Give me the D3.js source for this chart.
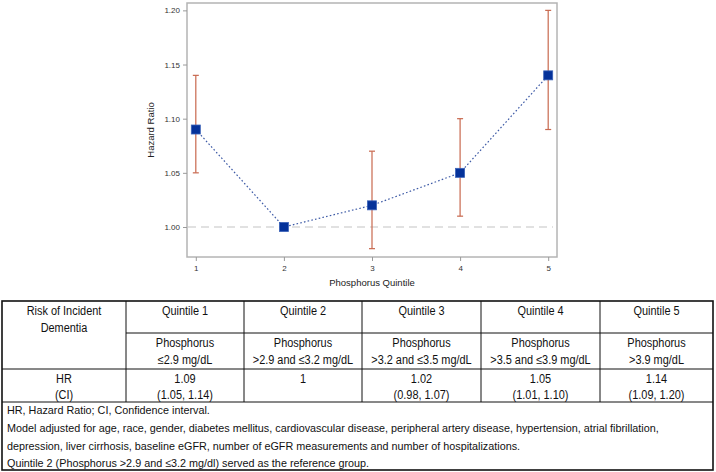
<!DOCTYPE html>
<html>
<head>
<meta charset="utf-8">
<script src="https://cdn.jsdelivr.net/npm/d3@7"></script>
<style>
  html, body { margin: 0; padding: 0; background: #fff; }
  svg { display: block; }
</style>
</head>
<body>
<svg id="chart" width="716" height="472"></svg>
<script>
// ---- Data ----
const quintiles = [1, 2, 3, 4, 5];
const hazardRatio = [1.09, 1.00, 1.02, 1.05, 1.14];
const ciLower = [1.05, null, 0.98, 1.01, 1.09];
const ciUpper = [1.14, null, 1.07, 1.10, 1.20];
const yTicks = [1.00, 1.05, 1.10, 1.15, 1.20];
const referenceValue = 1.00;

const tableCorner = ["Risk of Incident", "Dementia"];
const quintileHeaders = ["Quintile 1", "Quintile 2", "Quintile 3", "Quintile 4", "Quintile 5"];
const rangeLine1 = ["Phosphorus", "Phosphorus", "Phosphorus", "Phosphorus", "Phosphorus"];
const rangeLine2 = ["≤2.9 mg/dL", ">2.9 and ≤3.2 mg/dL", ">3.2 and ≤3.5 mg/dL", ">3.5 and ≤3.9 mg/dL", ">3.9 mg/dL"];
const hrLabel = ["HR", "(CI)"];
const hrText = ["1.09", "1", "1.02", "1.05", "1.14"];
const ciText = ["(1.05, 1.14)", "", "(0.98, 1.07)", "(1.01, 1.10)", "(1.09, 1.20)"];
const notes = [
  "HR, Hazard Ratio; CI, Confidence interval.",
  "Model adjusted for age, race, gender, diabetes mellitus, cardiovascular disease, peripheral artery disease, hypertension, atrial fibrillation,",
  "depression, liver cirrhosis, baseline eGFR, number of eGFR measurements and number of hospitalizations.",
  "Quintile 2 (Phosphorus >2.9 and ≤3.2 mg/dl) served as the reference group."
];

// ---- Chart ----
const svg = d3.select("#chart");
const frame = { left: 187, right: 557, top: 3, bottom: 257 };

const x = d3.scaleLinear().domain([0.9, 5.1]).range([frame.left, frame.right]);
const y = d3.scaleLinear().domain([0.9723, 1.2068]).range([frame.bottom, frame.top]);

const chartFont = "'Liberation Sans', Arial, sans-serif";

// frame
svg.append("rect")
  .attr("x", frame.left).attr("y", frame.top)
  .attr("width", frame.right - frame.left).attr("height", frame.bottom - frame.top)
  .attr("fill", "none").attr("stroke", "#b4b4b4").attr("stroke-width", 1.5);

// axes
const yAxis = d3.axisLeft(y).tickValues(yTicks).tickFormat(d3.format(".2f")).tickSize(4).tickPadding(3);
const gy = svg.append("g").attr("transform", `translate(${frame.left},0)`).call(yAxis);
const xAxis = d3.axisBottom(x).tickValues(quintiles).tickFormat(d3.format("d")).tickSize(4).tickPadding(4);
const gx = svg.append("g").attr("transform", `translate(0,${frame.bottom})`).call(xAxis);
[gx, gy].forEach(g => {
  g.select(".domain").remove();
  g.selectAll(".tick line").attr("stroke", "#9a9a9a");
  g.selectAll(".tick text").attr("fill", "#333").style("font-family", chartFont).style("font-size", "8px");
});

// axis titles
svg.append("text")
  .attr("x", (frame.left + frame.right) / 2).attr("y", 286)
  .attr("text-anchor", "middle")
  .style("font-family", chartFont).style("font-size", "9.5px").attr("fill", "#222")
  .text("Phosphorus Quintile");
svg.append("text")
  .attr("transform", `translate(154,${(frame.top + frame.bottom) / 2}) rotate(-90)`)
  .attr("text-anchor", "middle")
  .style("font-family", chartFont).style("font-size", "9.5px").attr("fill", "#222")
  .text("Hazard Ratio");

// reference line
svg.append("line")
  .attr("x1", frame.left + 1).attr("x2", frame.right - 4)
  .attr("y1", y(referenceValue)).attr("y2", y(referenceValue))
  .attr("stroke", "#c4c4c4").attr("stroke-width", 1.2).attr("stroke-dasharray", "8,5");

const pts = quintiles.map((q, i) => ({ q, hr: hazardRatio[i], lo: ciLower[i], hi: ciUpper[i] }));

// error bars
const eb = svg.append("g").attr("stroke", "#c8684e").attr("stroke-width", 1.2).attr("fill", "none");
pts.filter(d => d.lo != null).forEach(d => {
  eb.append("line").attr("x1", x(d.q)).attr("x2", x(d.q)).attr("y1", y(d.lo)).attr("y2", y(d.hi));
  eb.append("line").attr("x1", x(d.q) - 3).attr("x2", x(d.q) + 3).attr("y1", y(d.lo)).attr("y2", y(d.lo));
  eb.append("line").attr("x1", x(d.q) - 3).attr("x2", x(d.q) + 3).attr("y1", y(d.hi)).attr("y2", y(d.hi));
});

// connecting line
svg.append("path")
  .datum(pts)
  .attr("d", d3.line().x(d => x(d.q)).y(d => y(d.hr)))
  .attr("fill", "none").attr("stroke", "#3d5aa6").attr("stroke-width", 1.2)
  .attr("stroke-dasharray", "1.6,2.2");

// markers
const ms = 9;
svg.append("g").selectAll("rect").data(pts).join("rect")
  .attr("x", d => x(d.q) - ms / 2).attr("y", d => y(d.hr) - ms / 2)
  .attr("width", ms).attr("height", ms)
  .attr("fill", "#05329a").attr("stroke", "#3a62b8").attr("stroke-width", 0.8);

// ---- Table ----
const tFont = "'Liberation Sans', Arial, sans-serif";
const colX = [2, 126, 244, 362, 481, 600, 713];
const rowY = { top: 301, mid: 333, hr: 369, hrBottom: 402, bottom: 470 };
const tg = svg.append("g");

function tText(xp, yp, str, anchor, size, sq) {
  if (!str) return;
  const t = tg.append("text")
    .attr("x", xp).attr("y", yp)
    .attr("text-anchor", anchor || "middle")
    .attr("dominant-baseline", "central")
    .style("font-family", tFont).style("font-size", (size || 12) + "px")
    .attr("fill", "#111")
    .text(str);
  const w = t.node().getComputedTextLength();
  t.attr("textLength", w * (sq || 0.91)).attr("lengthAdjust", "spacingAndGlyphs");
}

const lineAttr = sel => sel.attr("stroke", "#111").attr("stroke-width", 1);
// outer border
tg.append("rect").attr("x", colX[0]).attr("y", rowY.top)
  .attr("width", colX[6] - colX[0]).attr("height", rowY.bottom - rowY.top)
  .attr("fill", "none").attr("stroke", "#111").attr("stroke-width", 1.6);
// vertical dividers in header + HR rows
colX.slice(1, 6).forEach(cx => {
  lineAttr(tg.append("line").attr("x1", cx).attr("x2", cx).attr("y1", rowY.top).attr("y2", rowY.hrBottom));
});
lineAttr(tg.append("line").attr("x1", colX[1]).attr("x2", colX[6]).attr("y1", rowY.mid).attr("y2", rowY.mid));
lineAttr(tg.append("line").attr("x1", colX[0]).attr("x2", colX[6]).attr("y1", rowY.hr).attr("y2", rowY.hr));
lineAttr(tg.append("line").attr("x1", colX[0]).attr("x2", colX[6]).attr("y1", rowY.hrBottom).attr("y2", rowY.hrBottom));

// corner
const c0 = (colX[0] + colX[1]) / 2;
tText(c0, 311, tableCorner[0]);
tText(c0, 328, tableCorner[1]);
tText(c0, 379, hrLabel[0]);
tText(c0, 395, hrLabel[1]);

quintileHeaders.forEach((h, i) => {
  const cx = (colX[i + 1] + colX[i + 2]) / 2;
  tText(cx, 311, h);
  tText(cx, 343, rangeLine1[i]);
  tText(cx, 360, rangeLine2[i]);
  tText(cx, 379, hrText[i]);
  tText(cx, 395, ciText[i]);
});

const noteY = [410, 428, 446, 463];
notes.forEach((n, i) => tText(7, noteY[i], n, "start", 11.2, 0.965));
</script>
</body>
</html>
